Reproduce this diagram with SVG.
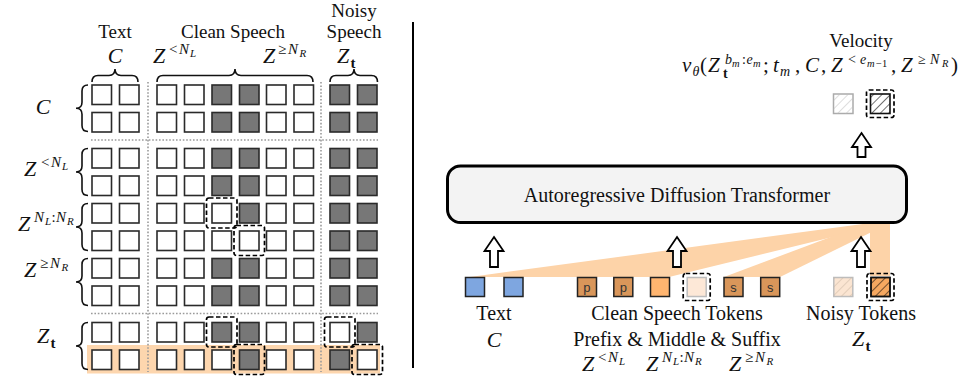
<svg xmlns="http://www.w3.org/2000/svg" xmlns:xlink="http://www.w3.org/1999/xlink" width="960" height="376" viewBox="0 0 960 376">
<style>
.t{font-family:"Liberation Serif","Times New Roman",serif;fill:#111;}
.mi{font-family:"Liberation Serif","Times New Roman",serif;font-style:italic;fill:#111;}
.mr{font-family:"Liberation Serif","Times New Roman",serif;font-style:normal;fill:#111;}
.mb{font-family:"Liberation Serif","Times New Roman",serif;font-weight:bold;font-style:normal;fill:#111;}
.cw{fill:#fff;stroke:#2a2a2a;stroke-width:1.6;}
.cg{fill:#777;stroke:#2a2a2a;stroke-width:1.6;}
.dash{fill:none;stroke:#000;stroke-width:1.7;stroke-dasharray:4.5 2.5;}
.dot{stroke:#9a9a9a;stroke-width:1.6;stroke-dasharray:1.6 1.8;fill:none;}
.brace{fill:none;stroke:#111;stroke-width:1.6;}
.fan{fill:#fdd3a8;}
.arrow{fill:#fff;stroke:#000;stroke-width:1.8;stroke-linejoin:miter;}
.tok{stroke:#222;stroke-width:1.5;}
.mono{font-family:"Liberation Mono","Courier New",monospace;font-size:13px;fill:#333;}
</style>
<defs>
<pattern id="hK" patternUnits="userSpaceOnUse" width="6" height="6" patternTransform="rotate(45)"><line x1="0" y1="0" x2="0" y2="6" stroke="#000" stroke-width="1.1"/></pattern>
<pattern id="hG" patternUnits="userSpaceOnUse" width="6" height="6" patternTransform="rotate(45)"><line x1="0" y1="0" x2="0" y2="6" stroke="#bdbdbd" stroke-width="1"/></pattern>
<pattern id="hT" patternUnits="userSpaceOnUse" width="6" height="6" patternTransform="rotate(45)"><line x1="0" y1="0" x2="0" y2="6" stroke="#c9b5a2" stroke-width="1"/></pattern>
<g id="rA">
<rect class="cw" x="92" y="0" width="19.5" height="19.5"/><rect class="cw" x="119.5" y="0" width="19.5" height="19.5"/>
<rect class="cw" x="157" y="0" width="19.5" height="19.5"/><rect class="cw" x="184.5" y="0" width="19.5" height="19.5"/>
<rect class="cg" x="212" y="0" width="19.5" height="19.5"/><rect class="cg" x="239.5" y="0" width="19.5" height="19.5"/>
<rect class="cw" x="266.5" y="0" width="19.5" height="19.5"/><rect class="cw" x="294" y="0" width="19.5" height="19.5"/>
<rect class="cg" x="330" y="0" width="19.5" height="19.5"/><rect class="cg" x="357.5" y="0" width="19.5" height="19.5"/>
</g>
<g id="rBase">
<rect class="cw" x="92" y="0" width="19.5" height="19.5"/><rect class="cw" x="119.5" y="0" width="19.5" height="19.5"/>
<rect class="cw" x="157" y="0" width="19.5" height="19.5"/><rect class="cw" x="184.5" y="0" width="19.5" height="19.5"/>
<rect class="cw" x="266.5" y="0" width="19.5" height="19.5"/><rect class="cw" x="294" y="0" width="19.5" height="19.5"/>
</g>
<path id="arr" d="M0,0 L9.5,14 L4,14 L4,30 L-4,30 L-4,14 L-9.5,14 Z"/>
<path id="arrS" d="M0,0 L9.5,14 L4,14 L4,24 L-4,24 L-4,14 L-9.5,14 Z"/>
</defs>

<!-- LEFT: attention mask matrix -->
<g id="mask">
<rect x="87" y="345" width="293" height="28.5" fill="#fdd6ae"/>
<line class="dot" x1="91" y1="140" x2="378" y2="140"/>
<line class="dot" x1="91" y1="313.5" x2="378" y2="313.5"/>
<line class="dot" x1="148" y1="82" x2="148" y2="372"/>
<line class="dot" x1="321" y1="82" x2="321" y2="372"/>
<use xlink:href="#rA" href="#rA" y="85"/>
<use xlink:href="#rA" href="#rA" y="112.5"/>
<use xlink:href="#rA" href="#rA" y="148.5"/>
<use xlink:href="#rA" href="#rA" y="176"/>
<g transform="translate(0,203.5)"><use xlink:href="#rBase" href="#rBase"/>
<rect class="cw" x="212" y="0" width="19.5" height="19.5"/><rect class="cg" x="239.5" y="0" width="19.5" height="19.5"/>
<rect class="cg" x="330" y="0" width="19.5" height="19.5"/><rect class="cg" x="357.5" y="0" width="19.5" height="19.5"/></g>
<g transform="translate(0,231)"><use xlink:href="#rBase" href="#rBase"/>
<rect class="cw" x="212" y="0" width="19.5" height="19.5"/><rect class="cw" x="239.5" y="0" width="19.5" height="19.5"/>
<rect class="cg" x="330" y="0" width="19.5" height="19.5"/><rect class="cg" x="357.5" y="0" width="19.5" height="19.5"/></g>
<use xlink:href="#rA" href="#rA" y="258.5"/>
<use xlink:href="#rA" href="#rA" y="286"/>
<g transform="translate(0,322.5)"><use xlink:href="#rBase" href="#rBase"/>
<rect class="cg" x="212" y="0" width="19.5" height="19.5"/><rect class="cg" x="239.5" y="0" width="19.5" height="19.5"/>
<rect class="cw" x="330" y="0" width="19.5" height="19.5"/><rect class="cg" x="357.5" y="0" width="19.5" height="19.5"/></g>
<g transform="translate(0,350)"><use xlink:href="#rBase" href="#rBase"/>
<rect class="cw" x="212" y="0" width="19.5" height="19.5"/><rect class="cg" x="239.5" y="0" width="19.5" height="19.5"/>
<rect class="cg" x="330" y="0" width="19.5" height="19.5"/><rect class="cw" x="357.5" y="0" width="19.5" height="19.5"/></g>
<rect class="dash" x="206.5" y="198" width="30.5" height="30" rx="2.5"/>
<rect class="dash" x="234" y="225.5" width="30.5" height="30" rx="2.5"/>
<rect class="dash" x="206.5" y="317" width="30.5" height="30" rx="2.5"/>
<rect class="dash" x="324.5" y="317" width="30.5" height="30" rx="2.5"/>
<rect class="dash" x="234" y="344.5" width="30.5" height="30" rx="2.5"/>
<rect class="dash" x="352" y="344.5" width="30.5" height="30" rx="2.5"/>
</g>

<g id="braces">
<path class="brace" d="M92,82 Q92,75.5 98,75.5 L109,75.5 Q115,75.5 115,69 Q115,75.5 121,75.5 L132,75.5 Q138,75.5 138,82"/>
<path class="brace" d="M157,82 Q157,75.5 163,75.5 L229,75.5 Q235,75.5 235,69 Q235,75.5 241,75.5 L307,75.5 Q313,75.5 313,82"/>
<path class="brace" d="M330,82 Q330,75.5 336,75.5 L348,75.5 Q354,75.5 354,69 Q354,75.5 360,75.5 L371.5,75.5 Q377.5,75.5 377.5,82"/>
<path class="brace" d="M88,85 Q82,85 82,91 L82,102.3 Q82,108.3 76,108.3 Q82,108.3 82,114.3 L82,125.5 Q82,131.5 88,131.5"/>
<path class="brace" d="M88,148.5 Q82,148.5 82,154.5 L82,166 Q82,172 76,172 Q82,172 82,178 L82,189.5 Q82,195.5 88,195.5"/>
<path class="brace" d="M88,203.5 Q82,203.5 82,209.5 L82,221 Q82,227 76,227 Q82,227 82,233 L82,244.5 Q82,250.5 88,250.5"/>
<path class="brace" d="M88,258.5 Q82,258.5 82,264.5 L82,276 Q82,282 76,282 Q82,282 82,288 L82,299.5 Q82,305.5 88,305.5"/>
<path class="brace" d="M88,322.5 Q82,322.5 82,328.5 L82,340 Q82,346 76,346 Q82,346 82,352 L82,363.5 Q82,369.5 88,369.5"/>
</g>

<g id="left-labels">
<text class="t" x="115" y="38" font-size="19" text-anchor="middle">Text</text>
<text class="t" x="233" y="38" font-size="19" text-anchor="middle">Clean Speech</text>
<text class="t" x="354" y="17" font-size="19" text-anchor="middle">Noisy</text>
<text class="t" x="354" y="38" font-size="19" text-anchor="middle">Speech</text>
<text class="mi" x="115" y="63" font-size="22" text-anchor="middle">C</text>
<text class="mi" font-size="22"><tspan x="153" y="63">Z</tspan><tspan class="mr" x="169" y="54" font-size="15">&lt;</tspan><tspan x="179" y="54" font-size="15">N</tspan><tspan x="190" y="57" font-size="11">L</tspan></text>
<text class="mi" font-size="22"><tspan x="263" y="63">Z</tspan><tspan class="mr" x="278" y="54" font-size="15">≥</tspan><tspan x="288" y="54" font-size="15">N</tspan><tspan x="299.5" y="57" font-size="11">R</tspan></text>
<text class="mi" font-size="22"><tspan x="337" y="63">Z</tspan><tspan class="mb" x="350.5" y="68" font-size="15">t</tspan></text>
<text class="mi" x="43" y="114" font-size="22" text-anchor="middle">C</text>
<text class="mi" font-size="22"><tspan x="24" y="176">Z</tspan><tspan class="mr" x="41" y="167" font-size="15">&lt;</tspan><tspan x="51" y="167" font-size="15">N</tspan><tspan x="62" y="170" font-size="11">L</tspan></text>
<text class="mi" font-size="22"><tspan x="18" y="231">Z</tspan><tspan x="34" y="222" font-size="15">N</tspan><tspan x="45" y="225" font-size="11">L</tspan><tspan class="mr" x="51.5" y="222" font-size="15">:</tspan><tspan x="56" y="222" font-size="15">N</tspan><tspan x="67" y="225" font-size="11">R</tspan></text>
<text class="mi" font-size="22"><tspan x="24" y="277">Z</tspan><tspan class="mr" x="40" y="268" font-size="15">≥</tspan><tspan x="50" y="268" font-size="15">N</tspan><tspan x="61.5" y="271" font-size="11">R</tspan></text>
<text class="mi" font-size="22"><tspan x="37" y="343">Z</tspan><tspan class="mb" x="50.5" y="348" font-size="15">t</tspan></text>
</g>

<line id="separator" x1="413" y1="22" x2="413" y2="368" stroke="#000" stroke-width="2"/>

<!-- RIGHT -->
<g id="connectors">
<polygon class="fan" points="470,277 669,277 890,223 870,223"/>
<polygon class="fan" points="724,277 780,277 890,223 868,223"/>
<rect class="fan" x="870" y="222" width="20" height="54"/>
</g>

<g id="transformer">
<rect x="447.5" y="166" width="459" height="56.5" rx="13" fill="#f3f3f3" stroke="#000" stroke-width="3"/>
<text class="t" x="677" y="202" font-size="20" text-anchor="middle">Autoregressive Diffusion Transformer</text>
</g>

<g id="arrows">
<use xlink:href="#arr" href="#arr" class="arrow" x="494" y="237"/>
<use xlink:href="#arr" href="#arr" class="arrow" x="677" y="237"/>
<use xlink:href="#arr" href="#arr" class="arrow" x="861" y="237"/>
<use xlink:href="#arrS" href="#arrS" class="arrow" x="861.5" y="133"/>
</g>

<g id="text-tokens">
<rect class="tok" x="465.5" y="277.5" width="19" height="19" fill="#7ea6e0"/>
<rect class="tok" x="504" y="277.5" width="19" height="19" fill="#7ea6e0"/>
<text class="t" x="494" y="320" font-size="20" text-anchor="middle">Text</text>
<text class="mi" x="494" y="347" font-size="22" text-anchor="middle">C</text>
</g>

<g id="clean-tokens">
<rect class="tok" x="577.5" y="277.5" width="19" height="19" fill="#d9965a"/>
<text class="mono" x="587" y="291.5" text-anchor="middle">p</text>
<rect class="tok" x="613.8" y="277.5" width="19" height="19" fill="#d9965a"/>
<text class="mono" x="623.3" y="291.5" text-anchor="middle">p</text>
<rect class="tok" x="650.5" y="277.5" width="19" height="19" fill="#ffb570"/>
<rect x="687.2" y="277.5" width="19" height="19" fill="#fde8d7" stroke="#bdbdbd" stroke-width="1.5"/>
<rect class="dash" x="683.2" y="273.5" width="27" height="27" rx="2.5"/>
<rect class="tok" x="724" y="277.5" width="19" height="19" fill="#d9965a"/>
<text class="mono" x="733.5" y="291.5" text-anchor="middle">s</text>
<rect class="tok" x="760.7" y="277.5" width="19" height="19" fill="#d9965a"/>
<text class="mono" x="770.2" y="291.5" text-anchor="middle">s</text>
<text class="t" x="677" y="320" font-size="20" text-anchor="middle">Clean Speech Tokens</text>
<text class="t" x="677" y="346" font-size="20" text-anchor="middle">Prefix &amp; Middle &amp; Suffix</text>
<text class="mi" font-size="22"><tspan x="582" y="371">Z</tspan><tspan class="mr" x="598" y="362" font-size="15">&lt;</tspan><tspan x="608" y="362" font-size="15">N</tspan><tspan x="619" y="365" font-size="11">L</tspan></text>
<text class="mi" font-size="22"><tspan x="646" y="371">Z</tspan><tspan x="662" y="362" font-size="15">N</tspan><tspan x="673" y="365" font-size="11">L</tspan><tspan class="mr" x="679.5" y="362" font-size="15">:</tspan><tspan x="684" y="362" font-size="15">N</tspan><tspan x="695" y="365" font-size="11">R</tspan></text>
<text class="mi" font-size="22"><tspan x="729" y="371">Z</tspan><tspan class="mr" x="745" y="362" font-size="15">≥</tspan><tspan x="755" y="362" font-size="15">N</tspan><tspan x="766.5" y="365" font-size="11">R</tspan></text>
</g>

<g id="noisy-tokens">
<rect x="833.8" y="277.5" width="19" height="19" fill="#fbe5d2" stroke="#bdbdbd" stroke-width="1.5"/>
<rect x="833.8" y="277.5" width="19" height="19" fill="url(#hT)"/>
<rect class="tok" x="871" y="277.5" width="19" height="19" fill="#f6a860"/>
<rect x="871" y="277.5" width="19" height="19" fill="url(#hK)" stroke="#111" stroke-width="1.5"/>
<rect class="dash" x="867" y="273.5" width="27" height="27" rx="2.5"/>
<text class="t" x="861" y="320" font-size="20" text-anchor="middle">Noisy Tokens</text>
<text class="mi" font-size="22"><tspan x="852" y="346">Z</tspan><tspan class="mb" x="865.5" y="351" font-size="15">t</tspan></text>
</g>

<g id="velocity">
<rect x="833.5" y="94" width="19.5" height="19.5" fill="#fff" stroke="#ababab" stroke-width="1.5"/>
<rect x="833.5" y="94" width="19.5" height="19.5" fill="url(#hG)"/>
<rect x="870.5" y="94" width="19.5" height="19.5" fill="#fff"/>
<rect x="870.5" y="94" width="19.5" height="19.5" fill="url(#hK)" stroke="#111" stroke-width="1.6"/>
<rect class="dash" x="866.5" y="90" width="27.5" height="27.5" rx="2.5"/>
<text class="t" x="861" y="47" font-size="19" text-anchor="middle">Velocity</text>
<text class="mi" font-size="21"><tspan x="682" y="72">v</tspan><tspan x="692.5" y="76" font-size="14">θ</tspan><tspan class="mr" x="700" y="72">(</tspan><tspan x="708" y="72">Z</tspan><tspan x="725" y="63.5" font-size="14">b</tspan><tspan x="732" y="66.5" font-size="10.5">m</tspan><tspan class="mr" x="742" y="63.5" font-size="14">:</tspan><tspan x="746.5" y="63.5" font-size="14">e</tspan><tspan x="753" y="66.5" font-size="10.5">m</tspan><tspan class="mb" x="723" y="78" font-size="14">t</tspan><tspan class="mr" x="763" y="72">;</tspan><tspan x="773" y="72">t</tspan><tspan x="780" y="76" font-size="14">m</tspan><tspan class="mr" x="795" y="72">,</tspan><tspan x="805" y="72">C</tspan><tspan class="mr" x="821" y="72">,</tspan><tspan x="831" y="72">Z</tspan><tspan class="mr" x="848" y="63.5" font-size="14">&lt;</tspan><tspan x="860" y="63.5" font-size="14">e</tspan><tspan x="867" y="66.5" font-size="10.5">m</tspan><tspan class="mr" x="876" y="66.5" font-size="10.5">−1</tspan><tspan class="mr" x="891" y="72">,</tspan><tspan x="901" y="72">Z</tspan><tspan class="mr" x="918" y="63.5" font-size="14">≥</tspan><tspan x="930" y="63.5" font-size="14">N</tspan><tspan x="942" y="66.5" font-size="10.5">R</tspan><tspan class="mr" x="951" y="72">)</tspan></text>
</g>
</svg>
